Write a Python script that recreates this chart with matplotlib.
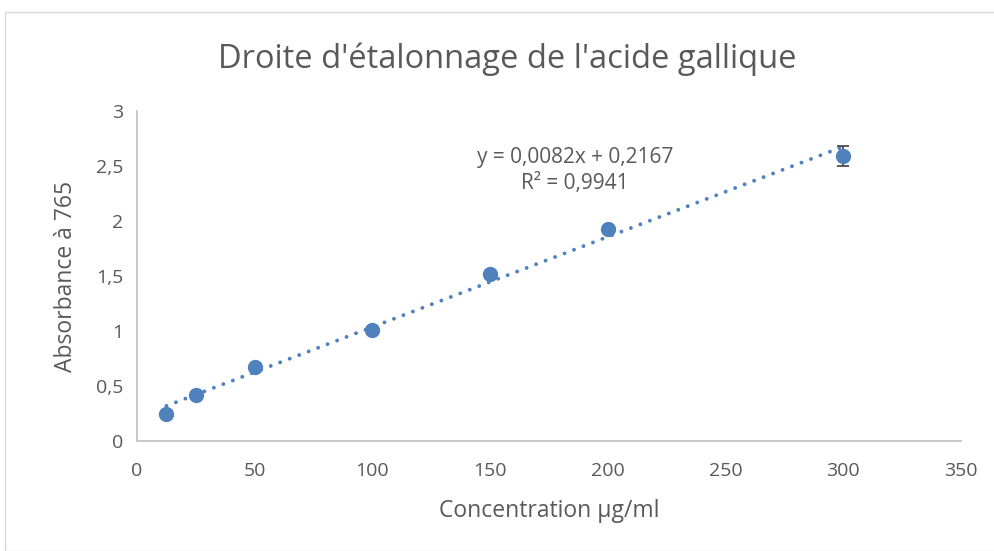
import matplotlib.pyplot as plt
import numpy as np
from matplotlib.patches import Rectangle

# calibration data
conc = [12.5, 25, 50, 100, 150, 200, 300]
absorb = [0.245, 0.415, 0.67, 1.01, 1.515, 1.925, 2.59]
err = [0.02, 0.01, 0.03, 0.01, 0.03, 0.01, 0.09]
slope, intercept = 0.0082, 0.2167
xticks = [0, 50, 100, 150, 200, 250, 300, 350]
yticks = [0, 0.5, 1, 1.5, 2, 2.5, 3]
ytick_labels = ["0", "0,5", "1", "1,5", "2", "2,5", "3"]

BLUE = "#4F81BD"
TEXT = "#595959"
plt.rcParams["font.family"] = ["Open Sans", "DejaVu Sans"]

fig = plt.figure(figsize=(9.95, 5.51), dpi=100)
fig.patches.append(Rectangle((5 / 995, 0), 1, 1 - 12 / 551, transform=fig.transFigure,
                             fill=False, ec="#D9D9D9", lw=1))
ax = fig.add_axes([0.1377, 0.1996, 0.8281, 0.5989])

fit_x = np.array([conc[0], conc[-1]])
ax.plot(fit_x, slope * fit_x + intercept, color=BLUE, ls=(0, (0.01, 2.6)), lw=2.8,
        dash_capstyle="round", zorder=2)
ax.errorbar(conc, absorb, yerr=err, fmt="o", color=BLUE, ms=10, ecolor="#404040",
            elinewidth=1.2, capsize=4, capthick=1.2, zorder=3)

ax.text(186, 2.58, "y = 0,0082x + 0,2167", ha="center", va="center",
        fontsize=15, color=TEXT)
ax.text(186, 2.345, "R² = 0,9941", ha="center", va="center", fontsize=15, color=TEXT)

ax.set_xlim(0, 350)
ax.set_ylim(0, 3)
ax.set_xticks(xticks)
ax.set_yticks(yticks)
ax.set_yticklabels(ytick_labels)
ax.tick_params(length=0, labelsize=14, colors=TEXT)
ax.tick_params(axis="x", pad=15)
ax.tick_params(axis="y", pad=10)
for s in ("top", "right"):
    ax.spines[s].set_visible(False)
for s in ("left", "bottom"):
    ax.spines[s].set_color("#BFBFBF")
    ax.spines[s].set_linewidth(1.2)

ax.set_xlabel("Concentration µg/ml", fontsize=16.5, color=TEXT, labelpad=14)
ax.set_ylabel("Absorbance à 765", fontsize=16.5, color=TEXT, labelpad=13)
fig.text(0.51, 0.893, "Droite d'étalonnage de l'acide gallique", ha="center", va="center",
         fontsize=23.5, color=TEXT)

fig.savefig("out.png", dpi=100)
